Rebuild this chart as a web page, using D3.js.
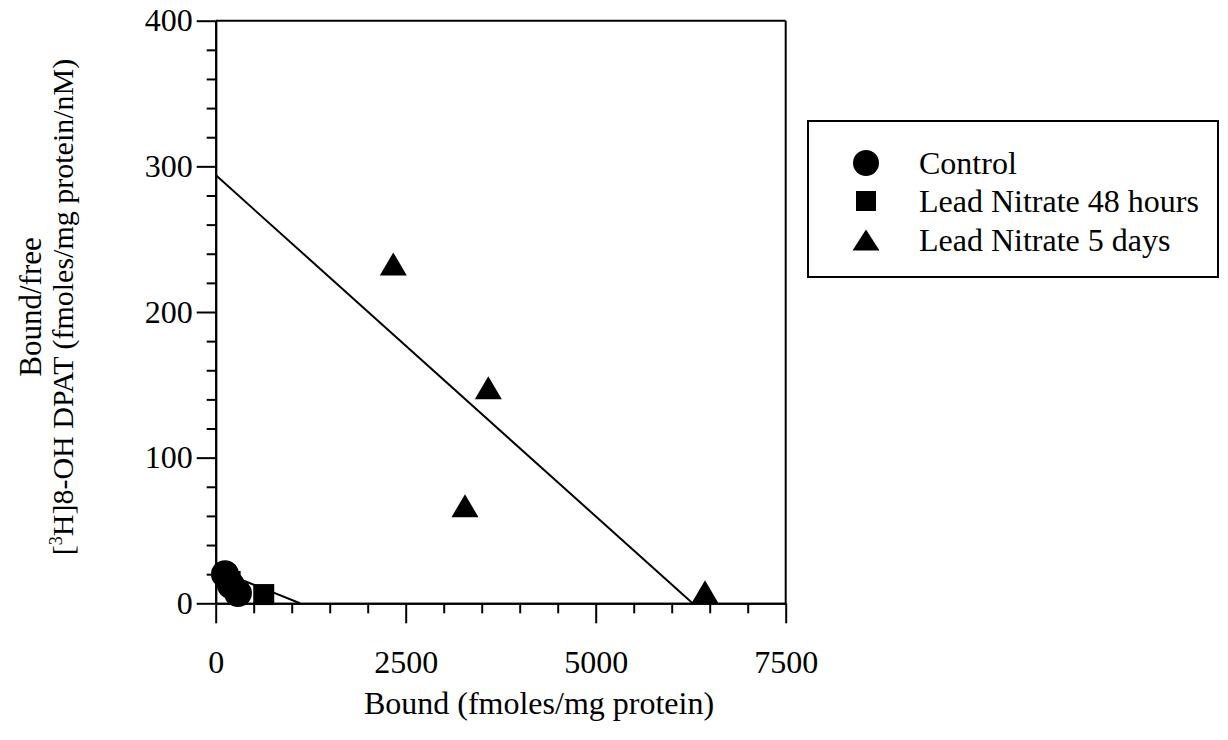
<!DOCTYPE html>
<html><head><meta charset="utf-8">
<script src="https://cdn.jsdelivr.net/npm/d3@7"></script>
<style>
  body { margin: 0; background: #fff; }
  text { font-family: "Liberation Serif", "Times New Roman", serif; fill: #000; }
</style>
</head><body>
<svg id="chart" width="1228" height="740"></svg>
<script>
// Scatchard plot of [3H]8-OH DPAT binding
const seriesNames = ["Control", "Lead Nitrate 48 hours", "Lead Nitrate 5 days"];
const controlBound = [122, 200, 293];
const controlRatio = [20, 12.5, 7];
const lead48Bound = [190, 632];
const lead48Ratio = [15, 6];
const lead5Bound = [2337, 3587, 3280, 6438];
const lead5Ratio = [233, 148, 67, 8];
// fitted lines, as [bound0, ratio0, bound1, ratio1]
const lead48Fit = [0, 23.3, 1109, 0];
const lead5Fit = [0, 294, 6275, 0];
const xTicks = [0, 2500, 5000, 7500];
const yTicks = [0, 100, 200, 300, 400];
const xMinorStep = 500;
const yMinorStep = 20;

const svg = d3.select("#chart");
const plotLeft = 215.7, plotRight = 785.7, plotTop = 20.7, plotBottom = 603.3;
const x = d3.scaleLinear().domain([0, 7500]).range([plotLeft, plotRight]);
const y = d3.scaleLinear().domain([0, 400]).range([plotBottom, plotTop]);

const FONT = 32;

// frame: top and right edges
svg.append("line").attr("x1", x(0)).attr("x2", x(7500)).attr("y1", y(400)).attr("y2", y(400))
  .attr("stroke", "#000").attr("stroke-width", 2);
svg.append("line").attr("x1", x(7500)).attr("x2", x(7500)).attr("y1", y(400)).attr("y2", y(0))
  .attr("stroke", "#000").attr("stroke-width", 2);

// minor ticks
const xMinor = d3.range(0, 7500 + 1, xMinorStep).filter(v => !xTicks.includes(v));
const yMinor = d3.range(0, 400 + 1, yMinorStep).filter(v => !yTicks.includes(v));

const gx = svg.append("g").attr("transform", `translate(0,${plotBottom})`);
gx.call(d3.axisBottom(x).tickValues(xTicks).tickSize(20).tickPadding(27).tickSizeOuter(0).tickFormat(d3.format("d")));
gx.append("g").call(d3.axisBottom(x).tickValues(xMinor).tickSize(10).tickSizeOuter(0).tickFormat(""));
gx.selectAll(".domain").attr("stroke", "#000").attr("stroke-width", 2);
gx.selectAll(".tick line").attr("stroke", "#000").attr("stroke-width", 2);
gx.selectAll(".tick text").style("font-size", FONT + "px").attr("font-family", null);

const gy = svg.append("g").attr("transform", `translate(${plotLeft},0)`);
gy.call(d3.axisLeft(y).tickValues(yTicks).tickSize(19).tickPadding(4).tickSizeOuter(0).tickFormat(d3.format("d")));
gy.append("g").call(d3.axisLeft(y).tickValues(yMinor).tickSize(9).tickSizeOuter(0).tickFormat(""));
gy.selectAll(".domain").attr("stroke", "#000").attr("stroke-width", 2);
gy.selectAll(".tick line").attr("stroke", "#000").attr("stroke-width", 2);
gy.selectAll(".tick text").style("font-size", FONT + "px").attr("font-family", null);

// axis titles
svg.append("text").attr("x", 539).attr("y", 714).attr("text-anchor", "middle")
  .style("font-size", FONT + "px").text("Bound (fmoles/mg protein)");

const yt = svg.append("g").attr("transform", "translate(0,307) rotate(-90)");
yt.append("text").attr("x", 0).attr("y", 41).attr("text-anchor", "middle")
  .style("font-size", "31px").text("Bound/free");
const yt2 = yt.append("text").attr("x", 0).attr("y", 73).attr("text-anchor", "middle")
  .style("font-size", "30px");
yt2.append("tspan").text("[");
yt2.append("tspan").attr("dy", -11).style("font-size", "18px").text("3");
yt2.append("tspan").attr("dy", 11).text("H]8-OH DPAT (fmoles/mg protein/nM)");

// fitted lines
[lead48Fit, lead5Fit].forEach(f => {
  svg.append("line")
    .attr("x1", x(f[0])).attr("y1", y(f[1])).attr("x2", x(f[2])).attr("y2", y(f[3]))
    .attr("stroke", "#000").attr("stroke-width", 2);
});

// marker shapes
const triPath = (w, h) => `M0,${-h / 2}L${w / 2},${h / 2}L${-w / 2},${h / 2}Z`;
const circlePath = r => d3.symbol(d3.symbolCircle, Math.PI * r * r)();
const squarePath = s => d3.symbol(d3.symbolSquare, s * s)();

function drawSeries(xs, ys, path) {
  svg.append("g").selectAll("path").data(xs.map((v, i) => [v, ys[i]])).join("path")
    .attr("transform", d => `translate(${x(d[0])},${y(d[1])})`)
    .attr("d", path).attr("fill", "#000");
}
drawSeries(lead5Bound, lead5Ratio, triPath(27, 23));
drawSeries(lead48Bound, lead48Ratio, squarePath(21));
drawSeries(controlBound, controlRatio, circlePath(14));

// legend
const lg = svg.append("g");
lg.append("rect").attr("x", 808).attr("y", 121).attr("width", 410).attr("height", 156)
  .attr("fill", "none").attr("stroke", "#000").attr("stroke-width", 2);
const legendPaths = [circlePath(13), squarePath(20), triPath(27, 21)];
const rowY = [163, 201, 240];
seriesNames.forEach((name, i) => {
  lg.append("path").attr("transform", `translate(866,${rowY[i]})`).attr("d", legendPaths[i]).attr("fill", "#000");
  lg.append("text").attr("x", 919).attr("y", rowY[i] + 11).style("font-size", FONT + "px").text(name);
});
</script>
</body></html>
